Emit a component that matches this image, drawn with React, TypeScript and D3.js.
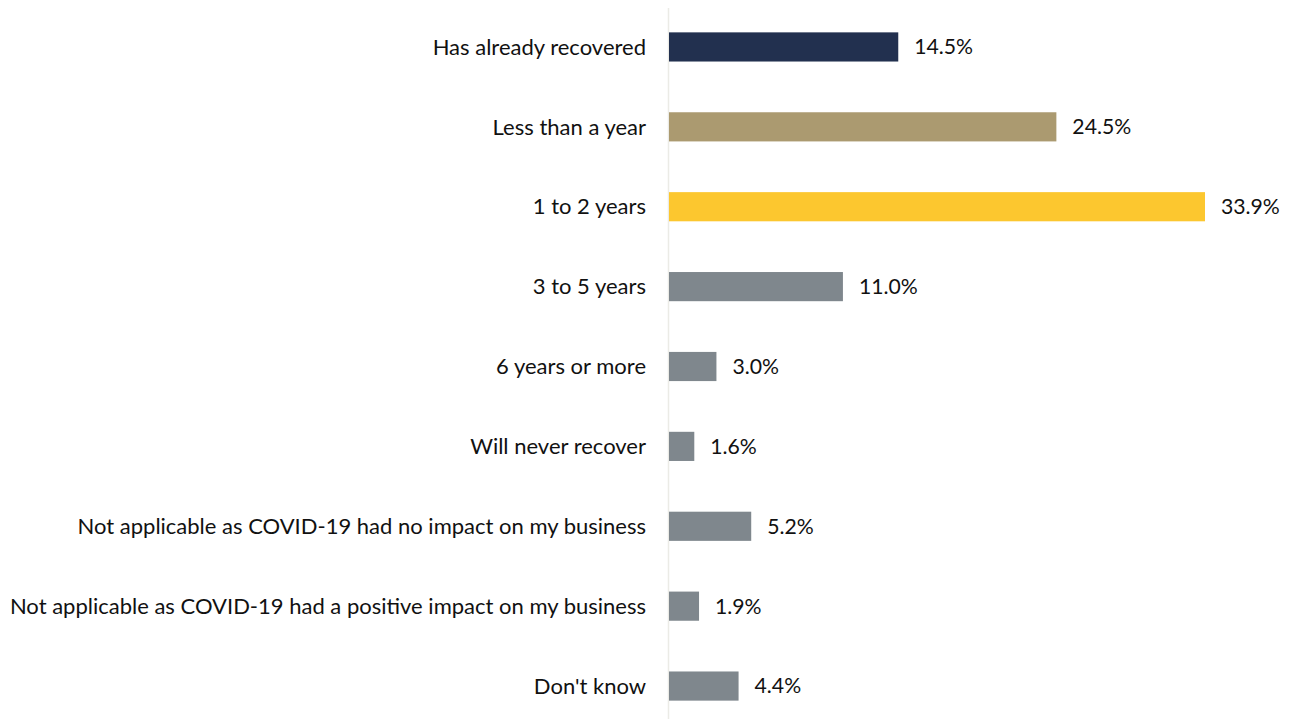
import React from "react";
import * as d3 from "d3";

const categories = [
  "Has already recovered",
  "Less than a year",
  "1 to 2 years",
  "3 to 5 years",
  "6 years or more",
  "Will never recover",
  "Not applicable as COVID-19 had no impact on my business",
  "Not applicable as COVID-19 had a positive impact on my business",
  "Don't know",
];
const values = [14.5, 24.5, 33.9, 11.0, 3.0, 1.6, 5.2, 1.9, 4.4];
const colors = ["#22304f", "#ab9a70", "#fcc72f", "#7f878d", "#7f878d", "#7f878d", "#7f878d", "#7f878d", "#7f878d"];

const W = 1297;
const H = 719;
const X0 = 669;
const FONT = "Lato, 'Open Sans', sans-serif";

export default function App() {
  const y = d3.scaleBand<string>().domain(categories).range([7, 726]).paddingInner(0.635).paddingOuter(0.3175);
  const x = d3.scaleLinear().domain([0, 33.9]).range([X0, 1205]);
  return (
    <svg width={W} height={H} style={{ position: "absolute", left: 0, top: 0 }} fontFamily={FONT}>
      <rect width={W} height={H} fill="#fff" />
      <line x1={X0 - 0.5} x2={X0 - 0.5} y1={8} y2={H} stroke="#ebebe6" strokeWidth={1.5} />
      {categories.map((c, i) => {
        const yy = y(c)!;
        const bw = y.bandwidth();
        const cy = yy + bw / 2;
        return (
          <g key={c}>
            <rect x={x(0)} y={yy} width={x(values[i]) - x(0)} height={bw} fill={colors[i]} />
            <text x={X0 - 23} y={cy} dy="0.35em" textAnchor="end" fontSize={22} fill="#111">
              {c}
            </text>
            <text x={x(values[i]) + 16} y={cy} dy="0.35em" fontSize={21.2} fill="#111">
              {values[i].toFixed(1) + "%"}
            </text>
          </g>
        );
      })}
    </svg>
  );
}
